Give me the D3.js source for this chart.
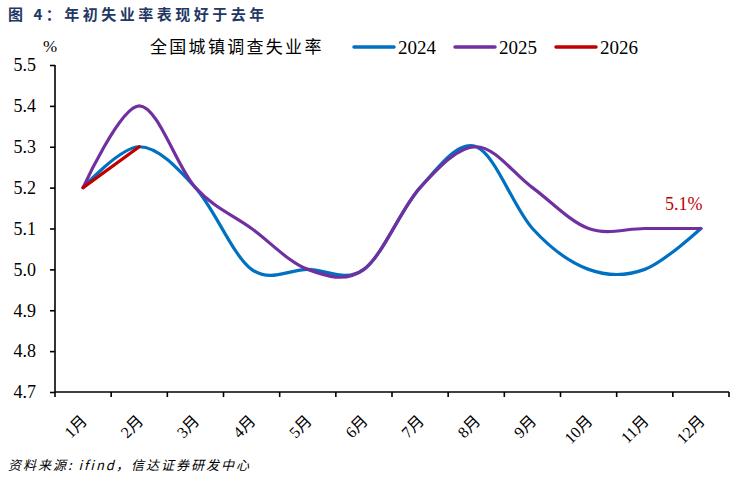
<!DOCTYPE html>
<html><head><meta charset="utf-8">
<script src="https://cdn.jsdelivr.net/npm/d3@7/dist/d3.min.js"></script>
<style>
body{margin:0;background:#fff;}
svg{display:block;}
</style></head>
<body><svg id="c" width="734" height="478"></svg>
<script>
const months = ["1月","2月","3月","4月","5月","6月","7月","8月","9月","10月","11月","12月"];
const s2024 = [5.2,5.3,5.2,5.0,5.0,5.0,5.2,5.3,5.1,5.0,5.0,5.1];
const s2025 = [5.2,5.4,5.2,5.1,5.0,5.0,5.2,5.3,5.2,5.1,5.1,5.1];
const s2026 = [5.2,5.3];
const yTicks = [4.7,4.8,4.9,5.0,5.1,5.2,5.3,5.4,5.5];
const seriesNames = ["2024","2025","2026"];
const seriesColors = ["#0070c0","#7030a0","#c00000"];
const seriesData = [s2024, s2025, s2026];

const svg = d3.select("#c");
const serif = "'Liberation Serif','Times New Roman','Noto Sans CJK SC',serif";
const cjk = "'Noto Sans CJK SC','Liberation Serif',serif";

const x = d3.scaleBand().domain(months).range([55, 729]);
const y = d3.scaleLinear().domain([4.7, 5.5]).range([392, 65]);

// title
svg.append("text").attr("x", 8).attr("y", 20)
  .attr("font-family", "'Noto Sans CJK SC',sans-serif").attr("font-weight", "bold")
  .attr("font-size", 15).attr("fill", "#1f3864").attr("letter-spacing", "3.5px")
  .text("图 4：年初失业率表现好于去年");

// y axis
const yAxis = svg.append("g").attr("transform", "translate(55,0)")
  .call(d3.axisLeft(y).tickValues(yTicks).tickFormat(d3.format(".1f")).tickSize(5).tickPadding(14));
yAxis.select(".domain").attr("stroke", "#000").attr("stroke-width", 1.6).attr("d", "M0,65V392");
yAxis.selectAll(".tick line").attr("stroke", "#000").attr("stroke-width", 1.6);
yAxis.selectAll(".tick text").attr("font-family", serif).attr("font-size", 18).attr("fill", "#000");

// x axis
const xAxis = svg.append("g").attr("transform", "translate(0,392)")
  .call(d3.axisBottom(x).tickSize(0).tickFormat(""));
xAxis.select(".domain").attr("stroke", "#000").attr("stroke-width", 1.6).attr("d", "M55,0H729");
const bounds = months.map(m => x(m)).concat([x.range()[1]]);
xAxis.selectAll("line.bt").data(bounds).enter().append("line").attr("class", "bt")
  .attr("x1", d => d).attr("x2", d => d).attr("y1", 0).attr("y2", 5)
  .attr("stroke", "#000").attr("stroke-width", 1.6);
xAxis.selectAll("text.ml").data(months).enter().append("text").attr("class", "ml")
  .attr("transform", d => `translate(${x(d) + x.bandwidth()/2 + 5},${422 - 392}) rotate(-45)`)
  .attr("text-anchor", "end").attr("font-family", serif).attr("font-size", 16).attr("fill", "#000")
  .text(d => d);

// % unit
svg.append("text").attr("x", 43).attr("y", 52).attr("font-family", serif).attr("font-size", 17).text("%");

// lines
const line = d3.line().x((d, i) => x(months[i]) + x.bandwidth()/2).y(d => y(d)).curve(d3.curveCardinal.tension(0));
seriesData.forEach((s, k) => {
  svg.append("path").datum(s).attr("d", line).attr("fill", "none")
    .attr("stroke", seriesColors[k]).attr("stroke-width", 3.2).attr("stroke-linecap", "round").attr("stroke-linejoin", "round");
});

// legend
svg.append("text").attr("x", 150).attr("y", 53).attr("font-family", cjk).attr("font-size", 17)
  .attr("letter-spacing", "2.3px").attr("fill", "#000").text("全国城镇调查失业率");
const legX = [354, 455, 556];
seriesNames.forEach((n, k) => {
  svg.append("line").attr("x1", legX[k]).attr("x2", legX[k] + 40).attr("y1", 47).attr("y2", 47)
    .attr("stroke", seriesColors[k]).attr("stroke-width", 3.5).attr("stroke-linecap", "round");
  svg.append("text").attr("x", legX[k] + 44).attr("y", 54).attr("font-family", serif).attr("font-size", 19)
    .attr("fill", "#000").text(n);
});

// annotation
svg.append("text").attr("x", 665).attr("y", 210).attr("font-family", serif).attr("font-size", 18)
  .attr("fill", "#c00000").text(s2025[11].toFixed(1) + "%");

// source
svg.append("text").attr("x", 8).attr("y", 470).attr("font-family", "'Noto Sans CJK SC',sans-serif")
  .attr("font-style", "italic").attr("font-size", 13).attr("fill", "#000").attr("letter-spacing", "2px")
  .text("资料来源: ifind，信达证券研发中心");
</script></body></html>
